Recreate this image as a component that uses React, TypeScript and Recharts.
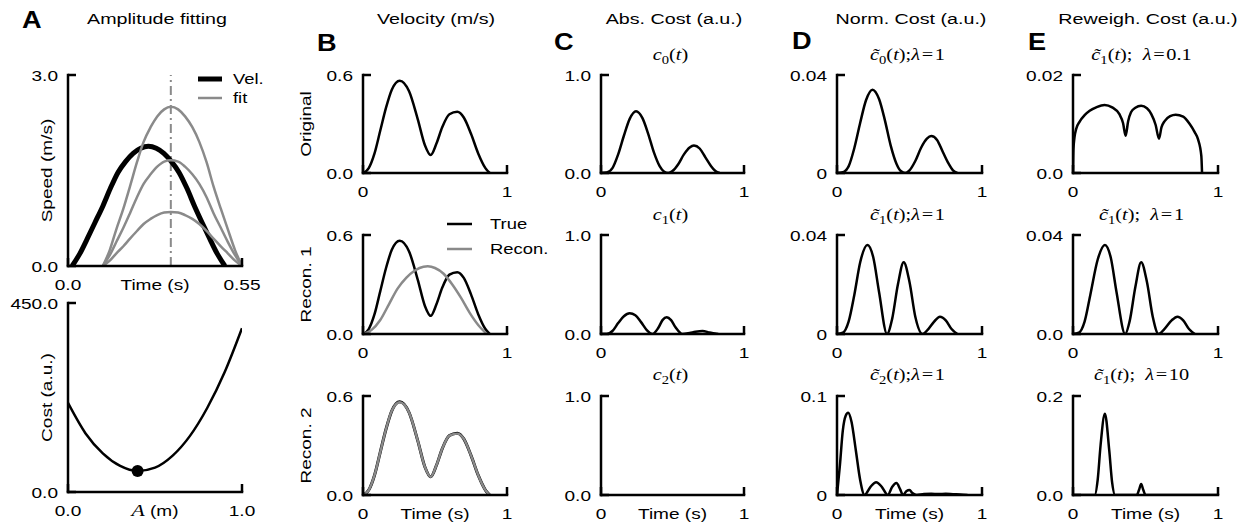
import React from 'react';
import { LineChart, Line, XAxis, YAxis, ReferenceLine, ReferenceDot, Legend } from 'recharts';

const SANS = '"Liberation Sans", Arial, Helvetica, sans-serif';
const SERIF = '"Liberation Serif", "Times New Roman", serif';
const STRETCH = 1.27;
const GRAY = '#8a8a8a';

// ---- Panel A: amplitude fitting ----
const velT = [0.013, 0.037, 0.061, 0.085, 0.11, 0.134, 0.158, 0.182, 0.206, 0.23, 0.254, 0.279, 0.303, 0.327, 0.351, 0.376, 0.4, 0.424, 0.448, 0.472, 0.496];
const velV = [0, 0.19, 0.43, 0.68, 0.94, 1.22, 1.47, 1.64, 1.77, 1.85, 1.88, 1.85, 1.77, 1.64, 1.47, 1.22, 0.94, 0.68, 0.43, 0.19, 0];
const fitT = [0.11, 0.132, 0.153, 0.175, 0.196, 0.218, 0.239, 0.261, 0.282, 0.304, 0.325, 0.348, 0.37, 0.393, 0.415, 0.438, 0.46, 0.483, 0.505, 0.528, 0.55];
const fitHigh = [0, 0.25, 0.58, 0.9, 1.25, 1.63, 1.95, 2.18, 2.35, 2.46, 2.5, 2.46, 2.35, 2.18, 1.95, 1.63, 1.25, 0.9, 0.58, 0.25, 0];
const fitMid = [0, 0.17, 0.38, 0.6, 0.83, 1.08, 1.29, 1.44, 1.56, 1.64, 1.66, 1.64, 1.56, 1.44, 1.29, 1.08, 0.83, 0.6, 0.38, 0.17, 0];
const fitLow = [0, 0.085, 0.2, 0.31, 0.43, 0.55, 0.66, 0.74, 0.8, 0.84, 0.85, 0.84, 0.8, 0.74, 0.66, 0.55, 0.43, 0.31, 0.2, 0.085, 0];
const fitPeakTime = 0.325;

const ampA = [0, 0.1, 0.2, 0.3, 0.4, 0.5, 0.6, 0.7, 0.8, 0.9, 1.0];
const ampCost = [212, 140, 92, 62, 50, 58, 86, 133, 200, 285, 390];
const bestA = 0.4;
const bestCost = 50;

// ---- Panel B: velocity ----
const velBT = [0, 0.04, 0.08, 0.12, 0.16, 0.2, 0.255, 0.32, 0.38, 0.43, 0.47, 0.51, 0.55, 0.6, 0.655, 0.7, 0.75, 0.8, 0.85, 0.88];
const trueVel = [0, 0.03, 0.12, 0.26, 0.4, 0.51, 0.565, 0.5, 0.33, 0.17, 0.11, 0.18, 0.28, 0.36, 0.375, 0.34, 0.24, 0.12, 0.03, 0];
const recon1T = [0, 0.06, 0.12, 0.18, 0.24, 0.3, 0.36, 0.42, 0.45, 0.5, 0.56, 0.62, 0.68, 0.74, 0.8, 0.86];
const recon1V = [0, 0.025, 0.085, 0.18, 0.275, 0.34, 0.385, 0.408, 0.41, 0.4, 0.365, 0.3, 0.22, 0.13, 0.055, 0];
const recon2V = [0, 0.03, 0.12, 0.26, 0.4, 0.51, 0.562, 0.5, 0.33, 0.17, 0.11, 0.18, 0.28, 0.36, 0.372, 0.34, 0.24, 0.12, 0.03, 0];

// ---- Panel C: absolute cost ----
const c0T = [0, 0.04, 0.08, 0.12, 0.16, 0.2, 0.245, 0.29, 0.33, 0.37, 0.41, 0.44, 0.47, 0.5, 0.54, 0.58, 0.62, 0.65, 0.69, 0.73, 0.77, 0.8, 0.83];
const c0V = [0, 0.005, 0.05, 0.19, 0.38, 0.55, 0.63, 0.56, 0.4, 0.21, 0.07, 0.015, 0, 0.02, 0.09, 0.19, 0.26, 0.28, 0.25, 0.16, 0.07, 0.02, 0];
const c1T = [0, 0.04, 0.08, 0.12, 0.16, 0.2, 0.24, 0.28, 0.32, 0.36, 0.4, 0.43, 0.46, 0.49, 0.52, 0.57, 0.62, 0.66, 0.71, 0.76, 0.82];
const c1V = [0, 0, 0.03, 0.11, 0.18, 0.21, 0.19, 0.12, 0.04, 0, 0.06, 0.14, 0.17, 0.14, 0.07, 0, 0.01, 0.022, 0.03, 0.015, 0];

// ---- Panel D: normalised cost ----
const d0V = [0, 0.0003, 0.0027, 0.0103, 0.0205, 0.0297, 0.034, 0.0302, 0.0216, 0.0113, 0.0038, 0.0008, 0, 0.0011, 0.0049, 0.0103, 0.014, 0.0151, 0.0135, 0.0086, 0.0038, 0.0011, 0];
const d1T = [0, 0.04, 0.08, 0.12, 0.16, 0.21, 0.25, 0.29, 0.345, 0.38, 0.42, 0.46, 0.5, 0.54, 0.59, 0.63, 0.67, 0.71, 0.75, 0.79, 0.83];
const d1V = [0, 0.0005, 0.005, 0.016, 0.029, 0.036, 0.031, 0.017, 0, 0.006, 0.02, 0.029, 0.021, 0.007, 0, 0.002, 0.005, 0.007, 0.0055, 0.002, 0];
const d2T = [0, 0.02, 0.04, 0.06, 0.077, 0.1, 0.13, 0.16, 0.19, 0.23, 0.27, 0.31, 0.35, 0.38, 0.41, 0.435, 0.455, 0.48, 0.5, 0.52, 0.55, 0.6, 0.65, 0.7, 0.75, 0.8, 0.85, 0.9];
const d2V = [0, 0.03, 0.065, 0.08, 0.083, 0.074, 0.045, 0.015, 0, 0.008, 0.013, 0.008, 0, 0.008, 0.012, 0.006, 0, 0.004, 0.005, 0.002, 0, 0.001, 0.0012, 0.001, 0.0012, 0.0008, 0.0005, 0];

// ---- Panel E: reweighted cost ----
const e0T = [0, 0.003, 0.01, 0.022, 0.046, 0.08, 0.115, 0.16, 0.218, 0.27, 0.32, 0.345, 0.363, 0.38, 0.4, 0.43, 0.47, 0.51, 0.54, 0.57, 0.593, 0.61, 0.632, 0.67, 0.708, 0.76, 0.805, 0.84, 0.862, 0.885, 0.89];
const e0V = [0, 0.0048, 0.0072, 0.009, 0.0105, 0.0118, 0.0127, 0.0134, 0.0139, 0.0134, 0.012, 0.0102, 0.0076, 0.0105, 0.0124, 0.0133, 0.0137, 0.0132, 0.012, 0.0098, 0.007, 0.0093, 0.0106, 0.0116, 0.0119, 0.0115, 0.01, 0.0083, 0.0069, 0.0035, 0];
const e1T = [0, 0.04, 0.08, 0.12, 0.17, 0.22, 0.26, 0.3, 0.36, 0.39, 0.43, 0.47, 0.51, 0.55, 0.59, 0.63, 0.68, 0.72, 0.76, 0.8, 0.84];
const e1V = [0, 0.0005, 0.005, 0.016, 0.03, 0.036, 0.031, 0.017, 0, 0.005, 0.019, 0.029, 0.021, 0.007, 0, 0.002, 0.0055, 0.007, 0.0055, 0.002, 0];
const e2T = [0, 0.15, 0.17, 0.19, 0.22, 0.25, 0.27, 0.29, 0.44, 0.455, 0.47, 0.485, 0.5, 1];
const e2V = [0, 0, 0.03, 0.1, 0.164, 0.09, 0.025, 0, 0, 0.01, 0.022, 0.01, 0, 0];

// ---- text ----
const columnTitles = ['Amplitude fitting', 'Velocity (m/s)', 'Abs. Cost (a.u.)', 'Norm. Cost (a.u.)', 'Reweigh. Cost (a.u.)'];
const panelLetters = ['A', 'B', 'C', 'D', 'E'];
const rowNames = ['Original', 'Recon. 1', 'Recon. 2'];

const zip = (t: number[], v: number[]) => t.map((x, i) => ({ t: x, v: v[i] }));

// layout (pixels)
const ML = 80, MR = 30, MT = 12, MB = 40;
const rows = [{ top: 75, h: 98 }, { top: 235, h: 99 }, { top: 396, h: 99 }];
const colB = { left: 363, w: 144 };
const colC = { left: 601, w: 143 };
const colD = { left: 837, w: 145 };
const colE = { left: 1073, w: 145 };

const axisLineStyle = { stroke: '#000', strokeWidth: 2.5, strokeLinecap: 'square' as const };

const T = ({ x, y, anchor = 'middle', size = 15, rotate = 0, weight = 'normal', sx = STRETCH, children }: any) => (
  <text
    transform={`translate(${x},${y}) rotate(${rotate}) scale(${sx},1)`}
    textAnchor={anchor}
    fontSize={size}
    fontWeight={weight}
    fontFamily={SANS}
    fill="#000"
  >
    {children}
  </text>
);

const makeXTick = (ticks: number[], labels: string[]) => (props: any) => {
  const { x, y, payload } = props;
  return (
    <g>
      <line x1={x} y1={y} x2={x} y2={y - 8} stroke="#000" strokeWidth={2.5} />
      <T x={x} y={y + 24}>{labels[ticks.indexOf(payload.value)]}</T>
    </g>
  );
};

const makeYTick = (ticks: number[], labels: string[]) => (props: any) => {
  const { x, y, payload } = props;
  return (
    <g>
      <line x1={x} y1={y} x2={x + 8} y2={y} stroke="#000" strokeWidth={2.5} />
      <T x={x - 10} y={y + 5.5} anchor="end">{labels[ticks.indexOf(payload.value)]}</T>
    </g>
  );
};

// legend with a fixed entry order; entries not listed are left out
const makeLegend = (order: string[], widths: Record<string, number>, lineLen: number, textX: number, rowGap: number) => (props: any) => {
  const items = order
    .map((name) => (props.payload || []).find((e: any) => e.value === name))
    .filter(Boolean);
  return (
    <svg width={140} height={20 + rowGap * items.length} style={{ overflow: 'visible' }}>
      {items.map((e: any, i: number) => (
        <g key={e.value}>
          <line x1={0} x2={lineLen} y1={8 + i * rowGap} y2={8 + i * rowGap} stroke={e.color} strokeWidth={widths[e.value] || 2.5} />
          <T x={textX} y={13 + i * rowGap} anchor="start" size={14.5}>{e.value}</T>
        </g>
      ))}
    </svg>
  );
};

type PanelProps = {
  left: number; top: number; w: number; h: number;
  xDomain: [number, number]; xTicks: number[]; xLabels: string[];
  yDomain: [number, number]; yTicks: number[]; yLabels: string[];
  xTitle?: React.ReactNode; yTitle?: string; yTitleDx?: number;
  children?: React.ReactNode;
};

function Panel(p: PanelProps) {
  const xTitle = p.xTitle
    ? () => <g><T x={ML + p.w / 2} y={MT + p.h + 24}>{p.xTitle}</T></g>
    : undefined;
  const yTitle = p.yTitle
    ? () => <T x={ML + (p.yTitleDx ?? -57) + 5} y={MT + p.h / 2} rotate={-90}>{p.yTitle}</T>
    : undefined;
  return (
    <div style={{ position: 'absolute', left: p.left - ML, top: p.top - MT }}>
      <LineChart width={p.w + ML + MR} height={p.h + MT + MB} margin={{ top: MT, right: MR, bottom: 0, left: 0 }}>
        <XAxis
          type="number" dataKey="t" domain={p.xDomain} ticks={p.xTicks} interval={0} allowDataOverflow
          height={MB} tickSize={0} tickMargin={0} tickLine={false} axisLine={axisLineStyle}
          tick={makeXTick(p.xTicks, p.xLabels)} label={xTitle}
        />
        <YAxis
          type="number" domain={p.yDomain} ticks={p.yTicks} interval={0} allowDataOverflow
          width={ML} tickSize={0} tickMargin={0} tickLine={false} axisLine={axisLineStyle}
          tick={makeYTick(p.yTicks, p.yLabels)} label={yTitle}
        />
        {p.children}
      </LineChart>
    </div>
  );
}

const curve = (data: { t: number; v: number }[], color: string, width: number, name: string) => (
  <Line
    key={name}
    data={data} dataKey="v" name={name} type="monotone" stroke={color} strokeWidth={width}
    dot={false} activeDot={false} isAnimationActive={false}
  />
);

function MathTitle({ x, y, tilde, sub, sep, lambda }: any) {
  return (
    <text transform={`translate(${x},${y}) scale(${STRETCH},1)`} textAnchor="middle" fontFamily={SERIF} fontSize={16} fill="#000">
      <tspan fontStyle="italic">{tilde ? 'c\u0303' : 'c'}</tspan>
      <tspan fontSize={11.5} dy={4}>{sub}</tspan>
      <tspan dy={-4}>(</tspan>
      <tspan fontStyle="italic">t</tspan>
      <tspan>)</tspan>
      {lambda !== undefined && <tspan>{';' + (sep ? '\u2002' : '')}</tspan>}
      {lambda !== undefined && <tspan fontStyle="italic">λ</tspan>}
      {lambda !== undefined && <tspan>{'\u200a=\u200a' + lambda}</tspan>}
    </text>
  );
}

const subtitlesC = [{ sub: '0' }, { sub: '1' }, { sub: '2' }];
const subtitlesD = [{ tilde: true, sub: '0', lambda: '1' }, { tilde: true, sub: '1', lambda: '1' }, { tilde: true, sub: '2', lambda: '1' }];
const subtitlesE = [{ tilde: true, sub: '1', sep: true, lambda: '0.1' }, { tilde: true, sub: '1', sep: true, lambda: '1' }, { tilde: true, sub: '1', sep: true, lambda: '10' }];
const subtitleBaselines = [60, 220, 380];

export default function App() {
  const unit = { xDomain: [0, 1] as [number, number], xTicks: [0, 1], xLabels: ['0', '1'] };
  return (
    <div style={{ position: 'absolute', left: 0, top: 0, width: 1247, height: 525, background: '#fff', fontFamily: SANS, overflow: 'hidden' }}>
      {/* A: speed profiles */}
      <Panel left={68} top={75} w={174} h={191}
        xDomain={[0, 0.55]} xTicks={[0, 0.55]} xLabels={['0.0', '0.55']}
        yDomain={[0, 3]} yTicks={[0, 3]} yLabels={['0.0', '3.0']}
        xTitle="Time (s)" yTitle="Speed (m/s)" yTitleDx={-21}>
        <ReferenceLine x={fitPeakTime} stroke={GRAY} strokeWidth={2} strokeDasharray="9 4 2 4" />
        {curve(zip(velT, velV), '#000', 5, 'Vel.')}
        {curve(zip(fitT, fitHigh), GRAY, 2.5, 'fit')}
        {curve(zip(fitT, fitMid), GRAY, 2.5, 'fit-mid')}
        {curve(zip(fitT, fitLow), GRAY, 2.5, 'fit-low')}
        <Legend layout="vertical" align="center" verticalAlign="middle"
          wrapperStyle={{ left: 198 - 68 + ML, top: 79 - 8 - 75 + MT, width: 140 }}
          content={makeLegend(['Vel.', 'fit'], { 'Vel.': 5, fit: 2.5 }, 24, 35, 19)} />
      </Panel>
      {/* A: cost vs amplitude */}
      <Panel left={68} top={303} w={174} h={189}
        xDomain={[0, 1]} xTicks={[0, 1]} xLabels={['0.0', '1.0']}
        yDomain={[0, 450]} yTicks={[0, 450]} yLabels={['0.0', '450.0']}
        xTitle={<><tspan fontFamily={SERIF} fontStyle="italic" fontSize={17}>A</tspan><tspan> (m)</tspan></>}
        yTitle="Cost (a.u.)" yTitleDx={-21}>
        {curve(zip(ampA, ampCost), '#000', 2.5, 'cost')}
        <ReferenceDot x={bestA} y={bestCost} r={6} fill="#000" stroke="none" />
      </Panel>

      {/* B: velocities */}
      <Panel left={colB.left} top={rows[0].top} w={colB.w} h={rows[0].h} {...unit}
        yDomain={[0, 0.6]} yTicks={[0, 0.6]} yLabels={['0.0', '0.6']} yTitle={rowNames[0]}>
        {curve(zip(velBT, trueVel), '#000', 2.5, 'orig')}
      </Panel>
      <Panel left={colB.left} top={rows[1].top} w={colB.w} h={rows[1].h} {...unit}
        yDomain={[0, 0.6]} yTicks={[0, 0.6]} yLabels={['0.0', '0.6']} yTitle={rowNames[1]}>
        {curve(zip(velBT, trueVel), '#000', 2.5, 'True')}
        {curve(zip(recon1T, recon1V), GRAY, 2.5, 'Recon.')}
        <Legend layout="vertical" align="center" verticalAlign="middle"
          wrapperStyle={{ left: 447 - colB.left + ML, top: 224 - 8 - rows[1].top + MT, width: 140 }}
          content={makeLegend(['True', 'Recon.'], { True: 2.5, 'Recon.': 2.5 }, 25, 43, 25)} />
      </Panel>
      <Panel left={colB.left} top={rows[2].top} w={colB.w} h={rows[2].h} {...unit}
        yDomain={[0, 0.6]} yTicks={[0, 0.6]} yLabels={['0.0', '0.6']} yTitle={rowNames[2]} xTitle="Time (s)">
        {curve(zip(velBT, trueVel), '#000', 3, 'true2')}
        {curve(zip(velBT, recon2V), GRAY, 2.4, 'recon2')}
      </Panel>

      {/* C: absolute cost */}
      <Panel left={colC.left} top={rows[0].top} w={colC.w} h={rows[0].h} {...unit}
        yDomain={[0, 1]} yTicks={[0, 1]} yLabels={['0.0', '1.0']}>
        {curve(zip(c0T, c0V), '#000', 2.5, 'c0')}
      </Panel>
      <Panel left={colC.left} top={rows[1].top} w={colC.w} h={rows[1].h} {...unit}
        yDomain={[0, 1]} yTicks={[0, 1]} yLabels={['0.0', '1.0']}>
        {curve(zip(c1T, c1V), '#000', 2.5, 'c1')}
      </Panel>
      <Panel left={colC.left} top={rows[2].top} w={colC.w} h={rows[2].h} {...unit}
        yDomain={[0, 1]} yTicks={[0, 1]} yLabels={['0.0', '1.0']} xTitle="Time (s)" />

      {/* D: normalised cost */}
      <Panel left={colD.left} top={rows[0].top} w={colD.w} h={rows[0].h} {...unit}
        yDomain={[0, 0.04]} yTicks={[0, 0.04]} yLabels={['0', '0.04']}>
        {curve(zip(c0T, d0V), '#000', 2.5, 'd0')}
      </Panel>
      <Panel left={colD.left} top={rows[1].top} w={colD.w} h={rows[1].h} {...unit}
        yDomain={[0, 0.04]} yTicks={[0, 0.04]} yLabels={['0', '0.04']}>
        {curve(zip(d1T, d1V), '#000', 2.5, 'd1')}
      </Panel>
      <Panel left={colD.left} top={rows[2].top} w={colD.w} h={rows[2].h} {...unit}
        yDomain={[0, 0.1]} yTicks={[0, 0.1]} yLabels={['0', '0.1']} xTitle="Time (s)">
        {curve(zip(d2T, d2V), '#000', 2.5, 'd2')}
      </Panel>

      {/* E: reweighted cost */}
      <Panel left={colE.left} top={rows[0].top} w={colE.w} h={rows[0].h} {...unit}
        yDomain={[0, 0.02]} yTicks={[0, 0.02]} yLabels={['0.0', '0.02']}>
        {curve(zip(e0T, e0V), '#000', 2.5, 'e0')}
      </Panel>
      <Panel left={colE.left} top={rows[1].top} w={colE.w} h={rows[1].h} {...unit}
        yDomain={[0, 0.04]} yTicks={[0, 0.04]} yLabels={['0.0', '0.04']}>
        {curve(zip(e1T, e1V), '#000', 2.5, 'e1')}
      </Panel>
      <Panel left={colE.left} top={rows[2].top} w={colE.w} h={rows[2].h} {...unit}
        yDomain={[0, 0.2]} yTicks={[0, 0.2]} yLabels={['0.0', '0.2']} xTitle="Time (s)">
        {curve(zip(e2T, e2V), '#000', 2.5, 'e2')}
      </Panel>

      {/* titles, panel letters, subplot titles */}
      <svg width={1247} height={525} style={{ position: 'absolute', left: 0, top: 0, pointerEvents: 'none' }}>
        {[157, 436, 674, 911, 1148].map((cx, i) => (
          <T key={columnTitles[i]} x={cx} y={24} size={15.5}>{columnTitles[i]}</T>
        ))}
        {[[22, 28], [317, 51], [554, 50], [792, 49], [1028, 50]].map(([x, y], i) => (
          <T key={panelLetters[i]} x={x} y={y} anchor="start" size={23} weight="bold" sx={1.18}>{panelLetters[i]}</T>
        ))}
        {subtitlesC.map((s, i) => <MathTitle key={'c' + i} x={colC.left + colC.w / 2 - 2} y={subtitleBaselines[i]} {...s} />)}
        {subtitlesD.map((s, i) => <MathTitle key={'d' + i} x={colD.left + colD.w / 2 - 2} y={subtitleBaselines[i]} {...s} />)}
        {subtitlesE.map((s, i) => <MathTitle key={'e' + i} x={colE.left + colE.w / 2 - 4} y={subtitleBaselines[i]} {...s} />)}
      </svg>
    </div>
  );
}
